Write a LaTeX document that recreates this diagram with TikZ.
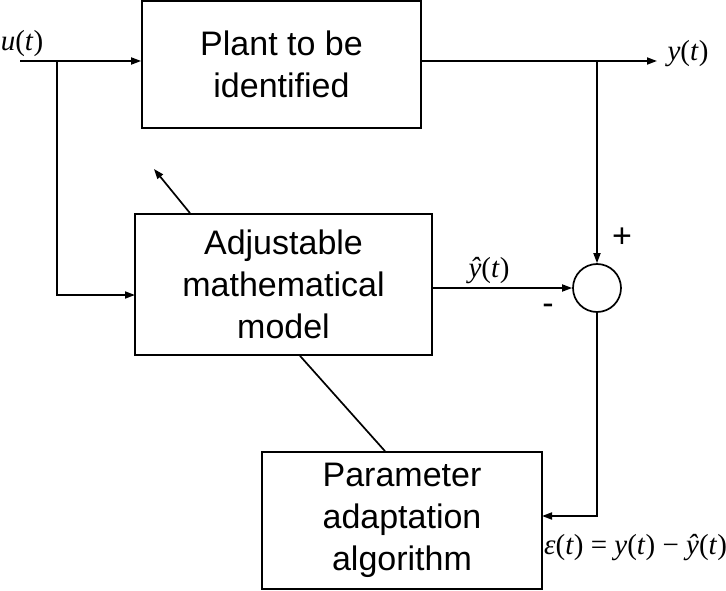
\documentclass[tikz,border=0pt]{standalone}
\usepackage{fontspec}
\setmainfont{Liberation Sans}
\newfontfamily\tnr{Liberation Serif}
\usetikzlibrary{arrows.meta,positioning,calc}
\newcommand{\iv}[1]{\textit{#1}}
\tikzset{
  blk/.style={draw,line width=1.7pt,align=center,font=\fontsize{34}{42}\selectfont},
  sig/.style={line width=1.7pt,-{Triangle[length=10pt,width=7pt]}},
  wire/.style={line width=1.7pt},
  lbl/.style={font=\tnr\fontsize{29}{31}\selectfont,inner sep=0pt},
  sgn/.style={font=\fontsize{34}{36}\selectfont,inner sep=0pt}
}

\begin{document}
\begin{tikzpicture}[x=1pt,y=-1pt]
  \useasboundingbox (0,0) rectangle (726,591);
  \node[blk,minimum width=279pt,minimum height=127pt] (plant) at (281.5,64.5) {Plant to be\\identified};
  \node[blk,minimum width=297pt,minimum height=141pt] (model) at (283.5,284.5) {Adjustable\\mathematical\\model};
  \node[blk,minimum width=280pt,minimum height=137pt] (paa) at (402,520.5) {Parameter\\adaptation\\algorithm};
  \node[circle,draw,line width=1.7pt,minimum size=48pt,inner sep=0pt] (sum) at (597,288) {};

  \coordinate (uin) at (20,61);
  \coordinate (ubr) at (57,61);
  \coordinate (uto) at (135,295);
  \coordinate (ybr) at (597,61);
  \coordinate (yout) at (657,61);
  \coordinate (eps) at (542,516);
  \coordinate (adj) at (154,169);

  \draw[sig] (uin) -- (plant.west |- uin);
  \draw[sig] (ubr) |- (uto);
  \draw[sig] (plant.east |- uin) -- (yout);
  \draw[sig] (ybr) -- (sum.north);
  \draw[sig] (model.east |- sum) -- (sum.west);
  \draw[sig] (sum.south) |- (eps);
  \draw[wire] ([xshift=16.5pt]model.south) -- ([xshift=-17pt]paa.north);
  \draw[sig] ([xshift=-93.5pt]model.north) -- (adj);

  \node[lbl] (ulab) at (22,44) {\iv{u}(\iv{t})};
  \node[lbl] (ylab) at (688,54) {\iv{y}(\iv{t})};
  \node[lbl] (yhlab) at (489,271) {\iv{ŷ}(\iv{t})};
  \node[lbl,anchor=west] (elab) at (544,548) {\iv{ε}(\iv{t}) = \iv{y}(\iv{t}) − \iv{ŷ}(\iv{t})};
  \node[sgn] (plus) at (622,238) {+};
  \node[sgn] (minus) at (548,309) {-};
\end{tikzpicture}
\end{document}
